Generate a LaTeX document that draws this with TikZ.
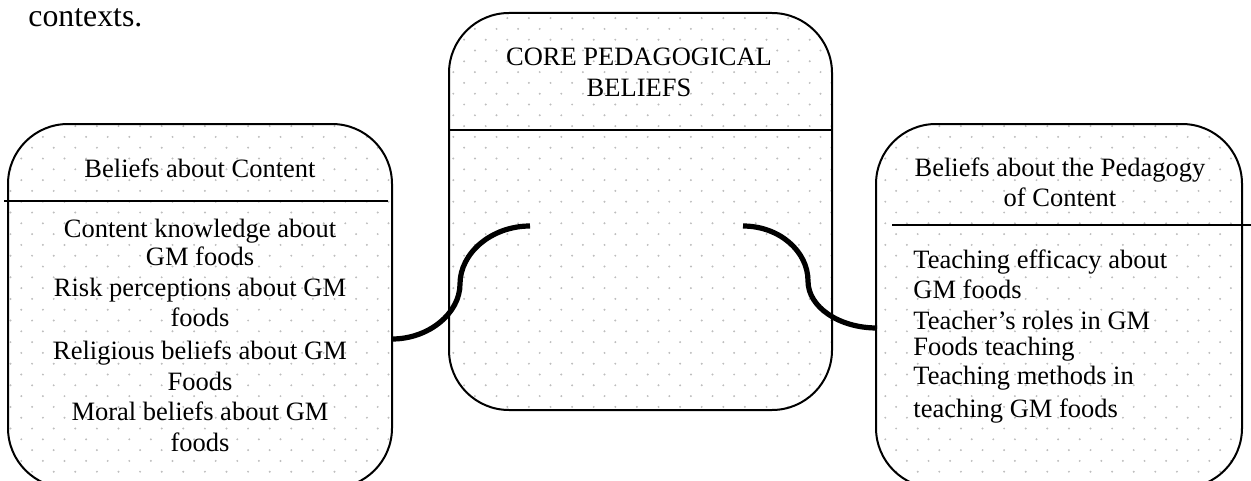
\documentclass[tikz,border=0pt]{standalone}
\usepackage{fontspec}
\setmainfont{Liberation Serif}
\definecolor{dotc}{RGB}{190,190,190}
\newcommand\dotfield[4]{%
  \pgfmathtruncatemacro\dfnr{(#4-#2)/10.8+1}%
  \pgfmathtruncatemacro\dfnc{(#3-#1)/21.6+1}%
  \foreach \r in {0,...,\dfnr}{%
    \pgfmathsetmacro\yy{#2+\r*10.8}%
    \pgfmathsetmacro\xo{#1+mod(\r,2)*10.8}%
    \foreach \c in {0,...,\dfnc}{%
      \fill[dotc] (\xo+\c*21.6,\yy) circle[radius=1.1];
    }%
  }%
}
\tikzset{
  box/.style={draw, line width=1pt, rounded corners=30pt, inner sep=0pt},
  divider/.style={line width=1pt},
  conn/.style={line width=2.6pt},
  boxtext/.style={inner sep=0pt, font=\fontsize{13.25pt}{15.2pt}\selectfont},
}
\begin{document}
\begin{tikzpicture}[x=0.5pt,y=-0.5pt]
\useasboundingbox (0,0) rectangle (1251,481);

% dotted fills
\begin{scope}
  \clip[rounded corners=30pt] (8,124) rectangle (392,488);
  \dotfield{-0.3}{115.3}{400}{495}
\end{scope}
\begin{scope}
  \clip[rounded corners=30pt] (449,13) rectangle (832,410);
  \dotfield{431.7}{7.3}{840}{415}
\end{scope}
\begin{scope}
  \clip[rounded corners=30pt] (876,124) rectangle (1242,488);
  \dotfield{863.7}{115.3}{1251}{495}
\end{scope}

% boxes
\node[box, minimum width=192pt, minimum height=182pt] (lbox) at (200,306) {};
\node[box, minimum width=191.5pt, minimum height=198.5pt] (cbox) at (640.5,211.5) {};
\node[box, minimum width=183pt, minimum height=182pt] (rbox) at (1059,306) {};

% dividers
\draw[divider] (4,200.5) -- (388,200.5);
\draw[divider] (449,129.5) -- (832,129.5);
\draw[divider] (892,224.5) -- (1251,224.5);

% connectors
\coordinate (lcA) at (392,339);
\coordinate (lcM) at (460,284);
\coordinate (lcB) at (530,226);
\coordinate (rcA) at (743,226);
\coordinate (rcM) at (808,281);
\coordinate (rcB) at (877,328);
\draw[conn] (lcA) .. controls +(37,0) and +(0,29) .. (lcM)
              .. controls +(0,-31) and +(-38.5,0) .. (lcB);
\draw[conn] (rcA) .. controls +(36,0) and +(0,-30) .. (rcM)
              .. controls +(0,26) and +(-38,0) .. (rcB);

% texts
\node[anchor=base west, inner sep=0pt, font=\fontsize{15.9pt}{18pt}\selectfont] (ctx) at (28,27) {contexts.};

\node[boxtext, anchor=base] (lhead) at (200,177) {Beliefs about Content};
\node[boxtext, anchor=north, align=center] (lbody) at (200,219) {Content knowledge about\\[-1.2pt]GM foods\\Risk perceptions about GM\\foods\\[1.5pt]Religious beliefs about GM\\Foods\\Moral beliefs about GM\\foods};

\node[boxtext, anchor=north, align=center] (chead) at (639,48) {CORE PEDAGOGICAL\\BELIEFS};

\node[boxtext, anchor=north, align=center] (rhead) at (1060,157) {Beliefs about the Pedagogy\\of Content};
\node[boxtext, anchor=north west, align=left] (rbody) at (913,249) {Teaching efficacy about\\GM foods\\[0.2pt]Teacher’s roles in GM\\[-2.2pt]Foods teaching\\[-0.7pt]Teaching methods in\\[1.3pt]teaching GM foods};
\end{tikzpicture}
\end{document}
